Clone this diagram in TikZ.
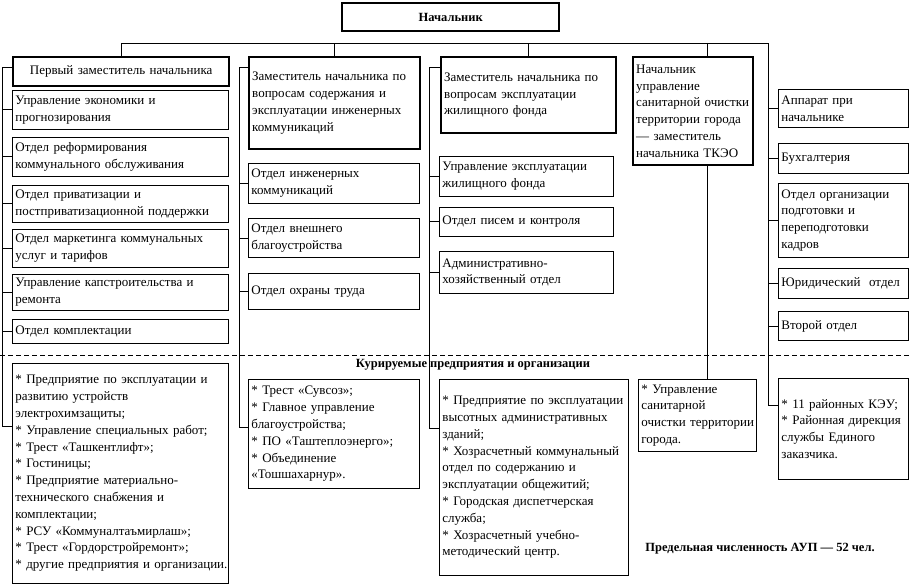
\documentclass[tikz,border=0pt]{standalone}
\usepackage{fontspec}
\setmainfont{Liberation Serif}
\usepackage{tikz}

\begin{document}
\begin{tikzpicture}[x=1pt,y=-1pt,
	unit/.style 2 args={draw,line width=0.9pt,anchor=north west,inner xsep=3pt,inner ysep=0pt,align=left,text width=#1,minimum height=#2,font=\fontsize{13}{16.8}\selectfont},
	chief/.style={line width=2.4pt},
	conn/.style={line width=0.9pt},
	headline/.style={font=\fontsize{12.5}{15}\selectfont\bfseries}]
	\useasboundingbox (0,0) rectangle (909,585);
	\coordinate (dD) at (707,43);
	\coordinate (sA1) at (2,67);
	\coordinate (sA2) at (2,426);
	\coordinate (sB1) at (239,67);
	\coordinate (sB2) at (239,427);
	\coordinate (sC1) at (429,67);
	\coordinate (sC2) at (429,428);
	\coordinate (sE) at (768,405);
	\coordinate (dl) at (0,355);
	\coordinate (dr) at (909,355);
	\node[unit={211pt}{28pt},chief,align=center,headline] (boss) at (341,2) {Начальник};
	\node[unit={210pt}{29pt},chief,align=center] (first) at (12,56) {Первый заместитель начальника};
	\node[unit={210pt}{39pt}] (e1) at (12,90) {Управление экономики и\\прогнозирования};
	\node[unit={210pt}{39pt}] (e2) at (12,137) {Отдел реформирования\\коммунального обслуживания};
	\node[unit={210pt}{37pt}] (e3) at (12,185) {Отдел приватизации и\\постприватизационной поддержки};
	\node[unit={210pt}{38pt}] (e4) at (12,229) {Отдел маркетинга коммунальных\\услуг и тарифов};
	\node[unit={210pt}{36pt}] (e5) at (12,274) {Управление капстроительства и\\ремонта};
	\node[unit={210pt}{24pt}] (e6) at (12,319) {Отдел комплектации};
	\node[unit={210pt}{220pt}] (kur1) at (12,363) {* Предприятие по эксплуатации и\\развитию устройств\\электрохимзащиты;\\{}* Управление специальных работ;\\{}* Трест «Ташкентлифт»;\\{}* Гостиницы;\\{}* Предприятие материально-\\технического снабжения и\\комплектации;\\{}* РСУ «Коммуналтаъмирлаш»;\\{}* Трест «Гордорстройремонт»;\\{}*~другие~предприятия~и~организации.};
	\node[unit={165pt}{92pt},chief] (second) at (248,56) {Заместитель начальника по\\вопросам содержания и\\эксплуатации инженерных\\коммуникаций};
	\node[unit={165pt}{40pt}] (i1) at (248,163) {Отдел инженерных\\коммуникаций};
	\node[unit={165pt}{39pt}] (i2) at (248,218) {Отдел внешнего\\благоустройства};
	\node[unit={165pt}{36pt}] (i3) at (248,273) {Отдел охраны труда};
	\node[unit={165pt}{109pt}] (kur2) at (248,379) {* Трест «Сувсоз»;\\{}* Главное управление\\благоустройства;\\{}* ПО «Таштеплоэнерго»;\\{}* Объединение\\«Тошшахарнур».};
	\node[unit={169pt}{76pt},chief] (third) at (440,56) {Заместитель начальника по\\вопросам эксплуатации\\жилищного фонда};
	\node[unit={168pt}{40pt}] (h1) at (439,156) {Управление эксплуатации\\жилищного фонда};
	\node[unit={168pt}{29pt}] (h2) at (439,207) {Отдел писем и контроля};
	\node[unit={168pt}{42pt}] (h3) at (439,251) {Административно-\\хозяйственный отдел};
	\node[unit={183pt}{196pt}] (kur3) at (439,379) {* Предприятие по эксплуатации\\высотных административных\\зданий;\\{}* Хозрасчетный коммунальный\\отдел по содержанию и\\эксплуатации общежитий;\\{}* Городская диспетчерская\\служба;\\{}* Хозрасчетный учебно-\\методический центр.};
	\node[unit={114pt}{108pt},chief] (fourth) at (632,56) {Начальник\\управление\\санитарной~очистки\\территории~города\\— заместитель\\начальника ТКЭО};
	\node[unit={112pt}{72pt}] (kur4) at (638,379) {* Управление\\санитарной\\очистки~территории\\города.};
	\node[unit={124pt}{38pt}] (a1) at (778,89) {Аппарат при\\начальнике};
	\node[unit={124pt}{30pt}] (a2) at (778,143) {Бухгалтерия};
	\node[unit={124pt}{74pt}] (a3) at (778,183) {Отдел организации\\подготовки и\\переподготовки\\кадров};
	\node[unit={124pt}{30pt}] (a4) at (778,268) {Юридический\ \ отдел};
	\node[unit={124pt}{29pt}] (a5) at (778,311) {Второй отдел};
	\node[unit={124pt}{101pt}] (kur5) at (778,378) {* 11 районных КЭУ;\\{}* Районная дирекция\\службы Единого\\заказчика.};
	\node[headline] (kurtitle) at (473,365) {Курируемые предприятия и организации};
	\node[headline] (limit) at (760,549) {Предельная численность АУП — 52 чел.};
	\draw[conn,dash pattern=on 5pt off 3pt] (dl) -- (dr);
	\draw[conn] (first.north) |- (sE |- dD) -- (sE) -- (sE -| kur5.west);
	\foreach \n in {second,third}
	\draw[conn] (\n.north) -- (\n.north |- dD);
	\draw[conn] (dD) -- (dD |- fourth.north);
	\draw[conn] (dD |- fourth.south) -- (dD |- kur4.north);
	\draw[conn] (sA1 -| first.west) -- (sA1) -- (sA2) -- (sA2 -| kur1.west);
	\draw[conn] (sB1 -| second.west) -- (sB1) -- (sB2) -- (sB2 -| kur2.west);
	\draw[conn] (sC1 -| third.west) -- (sC1) -- (sC2) -- (sC2 -| kur3.west);
	\foreach \n in {e1,e2,e3,e4,e5,e6}
	\draw[conn] (\n.west) -- (\n.west -| sA1);
	\foreach \n in {i1,i2,i3}
	\draw[conn] (\n.west) -- (\n.west -| sB1);
	\foreach \n in {h1,h2,h3}
	\draw[conn] (\n.west) -- (\n.west -| sC1);
	\foreach \n in {a1,a2,a3,a4,a5}
	\draw[conn] (\n.west) -- (\n.west -| sE);
\end{tikzpicture}
\end{document}
